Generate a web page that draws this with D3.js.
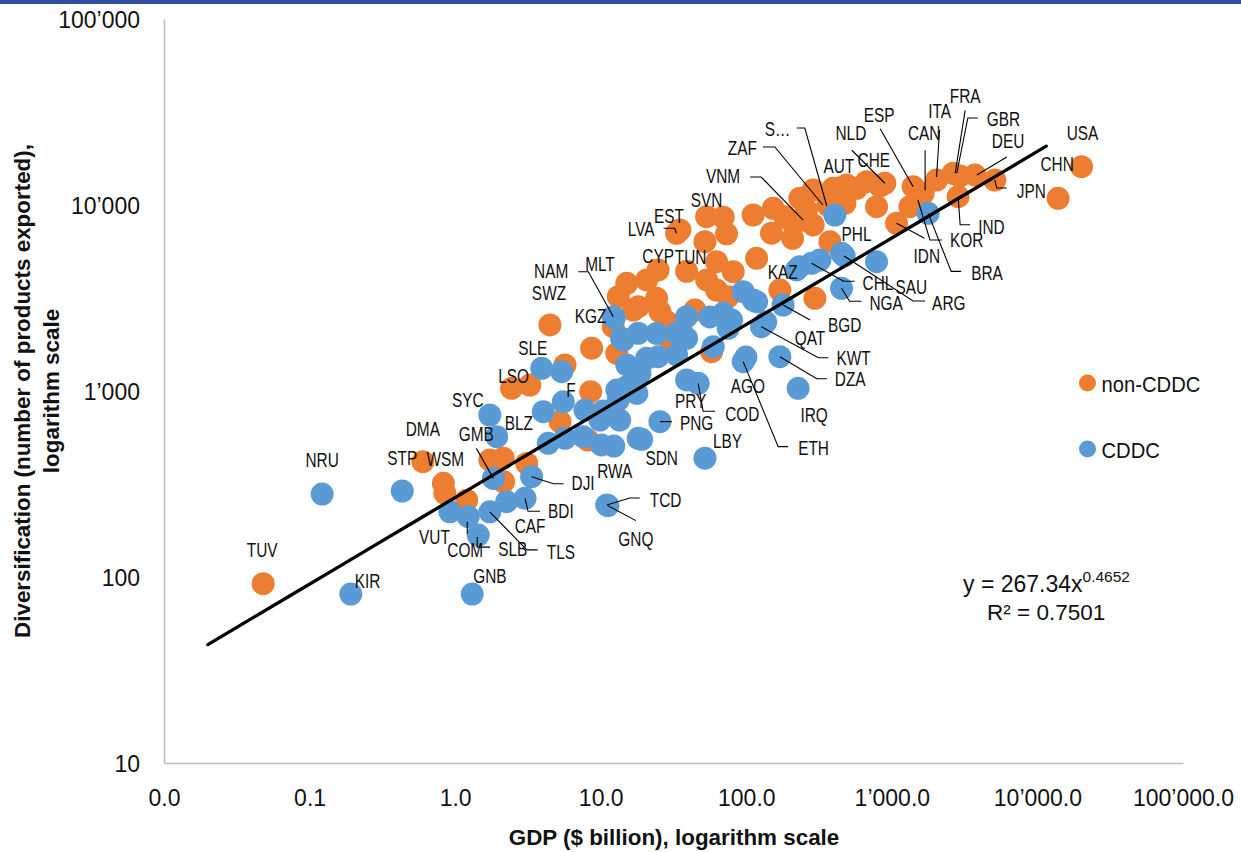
<!DOCTYPE html>
<html>
<head>
<meta charset="utf-8">
<script src="https://cdn.jsdelivr.net/npm/d3@7"></script>
<style>
  html, body { margin: 0; padding: 0; background: #fff; }
  svg text { font-family: "Liberation Sans", Arial, Helvetica, sans-serif; }
</style>
</head>
<body>
<svg id="chart" width="1241" height="852"></svg>
<script>
// ---- Axis ticks ----
const xTickValues = [0.01, 0.1, 1, 10, 100, 1000, 10000, 100000];
const yTickValues = [10, 100, 1000, 10000, 100000];

// ---- non-CDDC economies: GDP ($ billion) and number of products exported ----
const nonCddcNames = [
  "TUV", "DMA", "WSM", "", "", "", "", "", "", "LSO",
  "", "", "", "", "", "SWZ", "", "", "MLT", "",
  "", "", "", "", "", "", "", "", "", "",
  "", "CYP", "TUN", "", "", "", "", "", "", "",
  "EST", "LVA", "SVN", "", "", "", "", "", "", "",
  "", "", "", "", "", "", "AUT", "", "", "",
  "NLD", "", "", "VNM", "", "", "IDN", "ESP", "", "KOR",
  "CAN", "ITA", "FRA", "GBR", "DEU", "JPN", "IND", "USA", "CHN", "CHE",
  "", "S\u2026"
];
const nonCddcGdp = [
  0.048, 0.60, 0.83, 0.85, 1.20, 1.73, 2.14, 3.10, 2.15, 2.44,
  3.26, 5.68, 8.53, 5.25, 8.17, 4.48, 8.66, 12.9, 15.1, 20.7,
  13.2, 16.7, 12.2, 24.2, 18.1, 25.5, 28.4, 44.4, 29.9, 35.9,
  57.8, 24.8, 38.9, 62.5, 81.3, 53.4, 62.5, 75.1, 117.8, 170,
  35.0, 33.2, 53.4, 69.4, 73.2, 52.0, 111.5, 153, 149, 210,
  208, 259, 184, 233, 288, 395, 439, 489, 572, 670,
  895, 476, 785, 246, 288, 375, 1077, 1400, 1330, 1510,
  1640, 2028, 2637, 2931, 3715, 5097, 2853, 20090, 13870, 827,
  296, 363
];
const nonCddcProducts = [
  92, 417, 319, 282, 259, 426, 435, 408, 325, 1034,
  1077, 1380, 991, 684, 545, 2264, 1698, 1595, 3793, 3953,
  3214, 2725, 2217, 3150, 2840, 2670, 2358, 2725, 1879, 2084,
  1626, 4474, 4400, 4955, 4378, 3953, 3491, 3214, 5168, 3491,
  7339, 7043, 8650, 8600, 7000, 6350, 8836, 9600, 7050, 7970,
  6620, 9400, 8640, 10860, 12040, 12300, 12340, 12810, 12300, 13340,
  13090, 10210, 9790, 8300, 7810, 6350, 7970, 12540, 9790, 10640,
  11560, 13620, 14800, 14320, 14500, 13620, 11080, 16070, 10860, 12650,
  3150, 10000
];

// ---- CDDC economies ----
const cddcNames = [
  "NRU", "KIR", "STP", "GNB", "VUT", "COM", "SLB", "TLS", "CAF", "BDI",
  "DJI", "GMB", "SYC", "BLZ", "SLE", "", "F", "", "", "",
  "", "", "", "", "", "", "", "", "", "TCD",
  "GNQ", "SDN", "PNG", "LBY", "NAM", "KGZ", "", "", "", "",
  "", "", "", "", "", "", "", "BGD", "KAZ", "KWT",
  "", "", "", "", "", "", "PRY", "COD", "ETH", "DZA",
  "IRQ", "", "", "", "ZAF", "PHL", "ARG", "CHL", "", "SAU",
  "NGA", "BRA", "", "QAT", "AGO", "", "", "RWA"
];
const cddcGdp = [
  0.122, 0.192, 0.433, 1.31, 0.92, 1.23, 1.44, 1.73, 2.26, 3.02,
  3.35, 1.83, 1.73, 1.93, 3.93, 5.39, 5.53, 4.03, 7.79, 10.4,
  13.5, 12.9, 14.3, 15.1, 4.36, 5.68, 7.58, 10.1, 18.1, 11.0,
  11.2, 19.1, 25.5, 52.0, 12.2, 12.4, 13.9, 18.1, 24.2, 38.9,
  56.2, 69.4, 79.3, 75.1, 38.9, 95.2, 111.5, 179, 233, 127,
  59.3, 33.2, 24.8, 20.7, 15.1, 18.6, 38.9, 46.7, 95.2, 170,
  227, 17.7, 13.2, 9.87, 406, 451, 470, 281, 320, 785,
  451, 1776, 33.2, 136, 99.4, 117.8, 221, 12.3
];
const cddcProducts = [
  279, 81, 290, 81, 224, 211, 168, 224, 254, 265,
  346, 339, 743, 568, 1324, 1270, 875, 774, 790, 780,
  698, 1012, 1880, 1380, 523, 557, 568, 513, 557, 244,
  242, 550, 684, 435, 2508, 2468, 1920, 2044, 2040, 2508,
  2500, 2617, 2408, 2173, 1920, 3418, 3084, 2900, 4660, 2217,
  1730, 1562, 1529, 1500, 1055, 1245, 1146, 1100, 1438, 1529,
  1034, 972, 895, 698, 8836, 5500, 5320, 4860, 5060, 4955,
  3565, 9020, 2050, 2349, 1523, 3020, 4474, 506
];

// ---- Power trend line fitted to all economies ----
const trendCoef = 267.34;
const trendExp = 0.4652;
const trendR2 = 0.7501;
const trendGdpRange = [0.02, 11500];

// ---- Data-label placement: text offset from the marker, anchor, leader-line elbows ----
const labelLayout = {
  TUV: [-1, -27, "middle"], KIR: [4, -6, "start"], NRU: [0, -27, "middle"], GNB: [1, -11, "start"],
  VUT: [0, 32, "end"], COM: [-3, 40, "middle", [[-1, 5], [-1, 17]]],
  SLB: [20, 21, "start", [[-1, 2], [-1, 12], [12, 12]]],
  TLS: [57, 47, "start", [[0, 0], [37, 38], [48, 38]]],
  CAF: [8, 31, "start"], BDI: [23, 20, "start", [[0, 0], [3, 13], [15, 13]]],
  DJI: [40, 13, "start", [[0, 0], [22, 7], [32, 7]]],
  GMB: [-17, -37, "middle", [[-17, -30], [0, 0]]],
  DMA: [0, -26, "middle"], STP: [0, -26, "middle"], WSM: [2, -17, "middle"],
  SYC: [-22, -8, "middle"], BLZ: [8, -7, "start"], SLE: [-9, -13, "middle"],
  LSO: [2, -5, "middle"], F: [3, -5, "start"], SWZ: [-1, -25, "middle"],
  NAM: [-45, -39, "end", [[0, 0], [-25, -45], [-35, -45]]],
  KGZ: [-8, 5, "end"], MLT: [-12, -12, "end"],
  CYP: [0, -7, "middle"], TUN: [4, -7, "middle"], EST: [-11, -7, "middle"],
  LVA: [-22, 3, "end", [[-13, -5], [-2, -5], [0, 0]]],
  SVN: [0, -10, "middle"],
  ZAF: [-78, -60, "end", [[-72, -68], [-60, -68], [-12, -10]]],
  "S\u2026": [-63, -69, "start", [[-31, -77], [-23, -77], [-1, 1]]],
  VNM: [-63, -37, "end", [[-53, -43], [-42, -43], [0, 0]]],
  AUT: [-1, -15, "middle"], NLD: [-34, -43, "middle", [[-33, -33], [0, 0]]],
  CHE: [-6, -19, "middle"], ESP: [-34, -65, "middle", [[-33, -58], [0, 0]]],
  CAN: [1, -53, "middle", [[2, -43], [2, -3]]], ITA: [3, -62, "middle", [[3, -50], [0, -3]]],
  FRA: [12, -70, "middle", [[12, -63], [2, 0]]],
  GBR: [27, -50, "start", [[18, -58], [8, -58], [-3, -3]]],
  DEU: [17, -27, "start", [[32, -18], [2, 0]]],
  JPN: [22, 18, "start", [[0, 0], [2, 8], [12, 8]]],
  IND: [20, 37, "start", [[0, 0], [2, 28], [12, 28]]],
  KOR: [32, 47, "start", [[0, 0], [12, 40], [24, 40]]],
  BRA: [43, 67, "start", [[0, 0], [23, 58], [33, 58]]],
  IDN: [17, 40, "start", [[0, 0], [28, 15]]],
  USA: [1, -27, "middle"], CHN: [-1, -27, "middle"],
  PHL: [0, -12, "start"], ARG: [88, 54, "start", [[0, 0], [69, 45], [81, 45]]],
  CHL: [51, 27, "start", [[0, 0], [32, 18], [43, 18]]], SAU: [19, 32, "start"],
  KAZ: [-2, 12, "end"], NGA: [28, 22, "start", [[0, 0], [8, 13], [20, 13]]],
  BGD: [45, 27, "start", [[0, 0], [27, 15]]], QAT: [29, 23, "start"],
  KWT: [75, 38, "start", [[0, 0], [57, 31], [67, 31]]],
  DZA: [55, 29, "start", [[0, 0], [37, 22], [47, 22]]],
  IRQ: [16, 34, "middle"], ETH: [55, 93, "start", [[0, 0], [35, 85], [45, 85]]],
  AGO: [2, 36, "middle"], PRY: [4, 28, "middle"],
  COD: [27, 38, "start", [[0, 0], [5, 28], [17, 28]]],
  PNG: [20, 8, "start", [[0, 0], [12, 0]]], SDN: [20, 26, "middle"],
  LBY: [8, -10, "start"], RWA: [1, 32, "middle"],
  TCD: [43, 2, "start", [[0, 0], [23, -7], [33, -7]]],
  GNQ: [28, 40, "middle", [[0, 0], [28, 15]]]
};

// ---- Drawing ----
const W = 1241, H = 852;
const ORANGE = "#ED7D31", BLUE = "#5B9BD5", INK = "#111";
const svg = d3.select("#chart");
svg.append("rect").attr("width", W).attr("height", H).attr("fill", "#fff");
svg.append("rect").attr("width", W).attr("height", 4).attr("fill", "#2c4e9b");

const x = d3.scaleLog().domain([0.01, 100000]).range([164, 1183]);
const y = d3.scaleLog().domain([10, 100000]).range([763, 19]);

// Text set in a narrowed face: horizontally squeezed around its anchor point
function narrowText(parent, tx, ty, str, size, anchor, squeeze) {
  return parent.append("text")
    .attr("transform", `translate(${tx},${ty}) scale(${squeeze},1)`)
    .attr("text-anchor", anchor).attr("font-size", size).attr("fill", INK).text(str);
}

const apos = s => s.replace(/,/g, "\u2019");
const gx = svg.append("g").attr("transform", "translate(0,763)")
  .call(d3.axisBottom(x).tickValues(xTickValues)
    .tickFormat(v => apos(d3.format(",.1f")(v))).tickSize(0).tickSizeOuter(0));
gx.select(".domain").attr("stroke", "#bfbfbf").attr("stroke-width", 1.6);
gx.selectAll(".tick text").attr("y", 43).attr("dy", null)
  .attr("font-size", 23).attr("fill", INK);

const gy = svg.append("g").attr("transform", "translate(164,0)")
  .call(d3.axisLeft(y).tickValues(yTickValues)
    .tickFormat(v => apos(d3.format(",")(v))).tickSize(0).tickSizeOuter(0));
gy.select(".domain").attr("stroke", "#bfbfbf").attr("stroke-width", 1.6);
gy.selectAll(".tick text").attr("x", -24).attr("dy", "0.36em")
  .attr("font-size", 23).attr("fill", INK);

// Axis titles
svg.append("text").attr("x", 674).attr("y", 845).attr("text-anchor", "middle")
  .attr("font-size", 22.4).attr("font-weight", "bold").attr("fill", INK)
  .text("GDP ($ billion), logarithm scale");
const yTitle = svg.append("text").attr("transform", "translate(0,391) rotate(-90)")
  .attr("text-anchor", "middle").attr("font-size", 22.4).attr("font-weight", "bold").attr("fill", INK);
yTitle.append("tspan").attr("x", 0).attr("y", 29.5).text("Diversification (number of products exported),");
yTitle.append("tspan").attr("x", 0).attr("y", 59).text("logarithm scale");

// Points
const toRows = (names, gdp, prod, group) =>
  names.map((n, i) => ({ name: n, gdp: gdp[i], products: prod[i], group }));
const nonCddc = toRows(nonCddcNames, nonCddcGdp, nonCddcProducts, "non");
const cddc = toRows(cddcNames, cddcGdp, cddcProducts, "cddc");

const pts = svg.append("g");
pts.selectAll("circle.non").data(nonCddc).join("circle").attr("class", "non")
  .attr("cx", d => x(d.gdp)).attr("cy", d => y(d.products)).attr("r", 11.5).attr("fill", ORANGE);
pts.selectAll("circle.cddc").data(cddc).join("circle").attr("class", "cddc")
  .attr("cx", d => x(d.gdp)).attr("cy", d => y(d.products)).attr("r", 11.5).attr("fill", BLUE);

// Trend line y = a * x^b
const trendPts = d3.range(0, 21).map(i => {
  const l0 = Math.log10(trendGdpRange[0]), l1 = Math.log10(trendGdpRange[1]);
  const g = Math.pow(10, l0 + i / 20 * (l1 - l0));
  return [g, trendCoef * Math.pow(g, trendExp)];
});
svg.append("path").datum(trendPts)
  .attr("d", d3.line().x(d => x(d[0])).y(d => y(d[1])))
  .attr("fill", "none").attr("stroke", "#000").attr("stroke-width", 3.3).attr("stroke-linecap", "round");

// Data labels with leader lines
const labelled = nonCddc.concat(cddc).filter(d => d.name && labelLayout[d.name]);
const lg = svg.append("g");
labelled.forEach(d => {
  const leader = labelLayout[d.name][3];
  const px = x(d.gdp), py = y(d.products);
  if (leader) {
    lg.append("path")
      .attr("d", d3.line()(leader.map(p => [px + p[0], py + p[1]])))
      .attr("fill", "none").attr("stroke", "#000").attr("stroke-width", 1.1);
  }
});
labelled.forEach(d => {
  const [dx, dy, anchor] = labelLayout[d.name];
  narrowText(lg, x(d.gdp) + dx, y(d.products) + dy, d.name, 20, anchor, 0.77);
});

// Legend
const legendItems = [["non-CDDC", ORANGE, 383], ["CDDC", BLUE, 449]];
legendItems.forEach(([lab, col, cy]) => {
  svg.append("circle").attr("cx", 1087.5).attr("cy", cy).attr("r", 8.5).attr("fill", col);
  narrowText(svg, 1101.5, cy + 8.5, lab, 22, "start", 0.92);
});

// Trend equation
const eq = svg.append("text").attr("x", 963).attr("y", 592).attr("font-size", 23).attr("fill", INK);
eq.append("tspan").text("y = " + trendCoef + "x");
eq.append("tspan").attr("font-size", 15.5).attr("dy", -10).text(trendExp);
svg.append("text").attr("x", 987).attr("y", 620).attr("font-size", 22.5).attr("fill", INK)
  .text("R\u00b2 = " + trendR2);
</script>
</body>
</html>
